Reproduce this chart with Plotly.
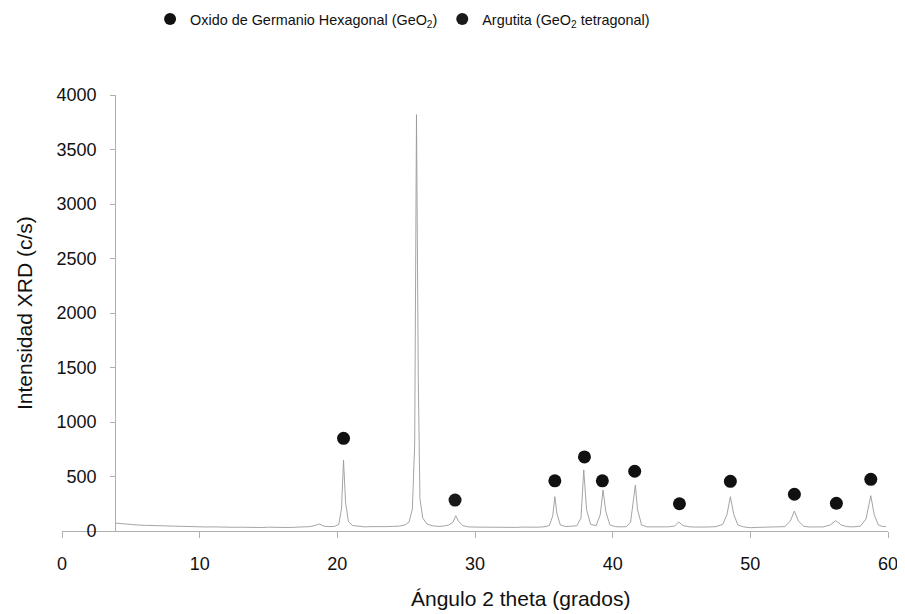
import plotly.graph_objects as go

# XRD pattern (2-theta in degrees, intensity in c/s)
angle = [3.9, 4.2, 4.6, 5.0, 5.5, 6.0, 6.5, 7.0, 7.5, 8.0, 8.5, 9.0, 9.5, 10.0, 10.5,
         11.0, 11.5, 12.0, 12.5, 13.0, 13.5, 14.0, 14.5, 15.0, 15.5, 16.0, 16.5, 17.0,
         17.5, 18.0, 18.4, 18.7, 19.0, 19.4, 19.8, 20.1, 20.3, 20.45, 20.6, 20.8, 21.1,
         21.5, 22.0, 22.5, 23.0, 23.5, 24.0, 24.5, 24.9, 25.2, 25.45, 25.62, 25.75,
         25.88, 26.0, 26.2, 26.5, 26.9, 27.3, 27.7, 28.1, 28.4, 28.6, 28.8, 29.1, 29.5,
         30.0, 30.5, 31.0, 31.5, 32.0, 32.5, 33.0, 33.5, 34.0, 34.5, 35.0, 35.4, 35.65,
         35.8, 35.95, 36.2, 36.6, 37.0, 37.4, 37.7, 37.9, 38.1, 38.4, 38.8, 39.1, 39.3,
         39.5, 39.8, 40.2, 40.6, 41.0, 41.3, 41.5, 41.65, 41.8, 42.1, 42.5, 43.0, 43.5,
         44.0, 44.5, 44.8, 45.1, 45.6, 46.0, 46.5, 47.0, 47.5, 48.0, 48.3, 48.55, 48.8,
         49.1, 49.5, 50.0, 50.5, 51.0, 51.5, 52.0, 52.5, 52.9, 53.2, 53.5, 53.9, 54.3,
         54.8, 55.3, 55.8, 56.2, 56.6, 57.0, 57.5, 58.0, 58.4, 58.75, 59.0, 59.3, 59.6,
         59.85]
intensity = [72, 68, 62, 60, 55, 52, 50, 48, 44, 45, 42, 40, 41, 38, 37,
             38, 35, 36, 34, 35, 33, 34, 32, 35, 33, 34, 32, 35,
             36, 40, 52, 64, 45, 40, 42, 60, 200, 650, 260, 90, 50,
             42, 38, 40, 37, 40, 42, 45, 55, 80, 200, 800, 3820,
             1400, 300, 120, 65, 48, 42, 45, 55, 80, 140, 90, 50, 38,
             36, 35, 37, 34, 36, 35, 33, 36, 34, 35, 38, 50, 140,
             315, 160, 55, 40, 42, 48, 120, 560, 200, 60, 50, 150, 376,
             180, 55, 40, 38, 40, 80, 250, 422, 200, 55, 38, 37, 35,
             38, 45, 83, 50, 38, 36, 35, 37, 40, 60, 150, 315, 150,
             55, 38, 30, 33, 35, 34, 36, 40, 90, 183, 90, 42, 37,
             35, 38, 55, 95, 55, 40, 38, 45, 110, 324, 150, 55, 42,
             40]

# Peak markers
hex_x = [20.45, 25.75, 35.8, 37.95, 39.25, 41.6, 44.85, 48.55, 53.2, 56.25, 58.75]
hex_y = [850, 4020, 460, 680, 460, 548, 250, 456, 337, 254, 474]
arg_x = [28.55]
arg_y = [284]

x_ticks = [0, 10, 20, 30, 40, 50, 60]
y_ticks = [0, 500, 1000, 1500, 2000, 2500, 3000, 3500, 4000]

FONT = "Liberation Sans, Arial, sans-serif"

fig = go.Figure()
fig.add_trace(go.Scatter(x=angle, y=intensity, mode="lines",
                         line=dict(color="#9a9a9a", width=0.9),
                         showlegend=False, hoverinfo="skip"))
fig.add_trace(go.Scatter(x=hex_x, y=hex_y, mode="markers",
                         name="Oxido de Germanio Hexagonal (GeO<sub>2</sub>)",
                         marker=dict(color="#111111", size=13), cliponaxis=False))
fig.add_trace(go.Scatter(x=arg_x, y=arg_y, mode="markers",
                         name="Argutita (GeO<sub>2</sub> tetragonal)",
                         marker=dict(color="#1a1a1a", size=13), cliponaxis=False))

fig.update_layout(
    width=905, height=614,
    margin=dict(l=54, r=25, t=87, b=91, autoexpand=False),
    paper_bgcolor="white", plot_bgcolor="white",
    font=dict(family=FONT, color="#111111"),
    showlegend=True,
    legend=dict(orientation="h", xref="container", yref="container",
                x=0.157, xanchor="left", y=0.982, yanchor="middle",
                font=dict(size=14.4, family=FONT, color="#111111"),
                itemsizing="constant", tracegroupgap=0, bgcolor="rgba(0,0,0,0)"),
    xaxis=dict(range=[0, 60], tickvals=x_ticks, ticktext=[str(v) for v in x_ticks],
               showgrid=False, zeroline=False, showline=True, linecolor="#b0b0b0",
               linewidth=1, ticks="outside", ticklen=6, tickcolor="#b0b0b0",
               tickfont=dict(size=18, family=FONT, color="#111111"),
               ticklabelstandoff=10, automargin=False),
    yaxis=dict(range=[0, 4000], tickvals=y_ticks, ticktext=[str(v) for v in y_ticks],
               anchor="free", position=0.0642,
               showgrid=False, zeroline=False, showline=True, linecolor="#b0b0b0",
               linewidth=1, ticks="outside", ticklen=5, tickcolor="#b0b0b0",
               tickfont=dict(size=18, family=FONT, color="#111111"),
               ticklabelstandoff=10, automargin=False),
)

fig.add_annotation(text="Ángulo 2 theta (grados)", xref="paper", yref="paper",
                   x=0.5545, y=-0.154, xanchor="center", yanchor="middle",
                   showarrow=False, font=dict(size=21, family=FONT, color="#111111"))
fig.add_annotation(text="Intensidad XRD (c/s)", xref="paper", yref="paper",
                   x=-0.046, y=0.5, xanchor="center", yanchor="middle", textangle=-90,
                   showarrow=False, font=dict(size=21, family=FONT, color="#111111"))

fig.write_html("out.html")
